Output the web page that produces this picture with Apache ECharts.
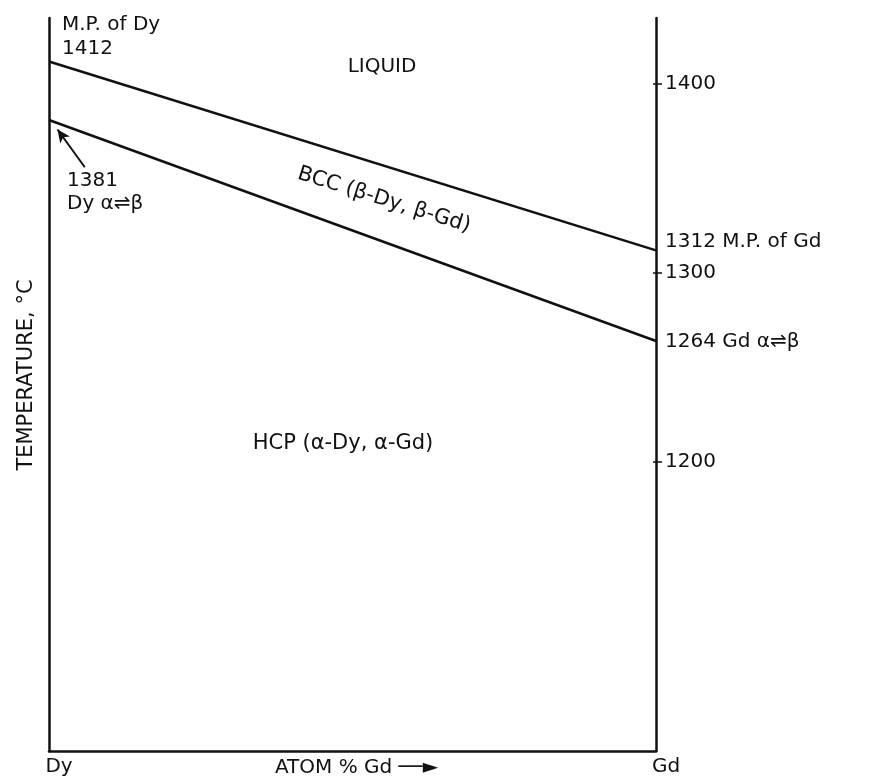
<!DOCTYPE html>
<html>
<head>
<meta charset="utf-8">
<script src="https://cdn.jsdelivr.net/npm/echarts@6/dist/echarts.min.js"></script>
<style>
  html, body { margin: 0; padding: 0; background: #fff; }
  #chart { width: 869px; height: 781px; }
</style>
</head>
<body>
<div id="chart"></div>
<script>
// ---- data ----
const composition = [0, 100];          // atom % Gd (Dy ... Gd)
const liquidus = [1412, 1312];         // melting line, °C
const betaTransus = [1381, 1264];      // alpha <-> beta transformation, °C
const tempTicks = [1200, 1300, 1400];  // right-axis tick labels
const endLabels = ['Dy', 'Gd'];        // x-axis end labels

const FONT = 'DejaVu Sans';
const INK = '#111';
const FS = 20;
const Y_MIN = 1047, Y_MAX = 1435;

const chart = echarts.init(document.getElementById('chart'), null, { renderer: 'canvas' });

const txt = (t, x, y, opts = {}) => Object.assign({
  type: 'text',
  x, y,
  style: Object.assign({
    text: t, fill: INK, font: (opts.size || FS) + 'px "' + FONT + '"',
    textAlign: 'left', textVerticalAlign: 'middle'
  }, opts.style || {})
}, opts.el || {});

const option = {
  backgroundColor: '#fff',
  animation: false,
  grid: { left: 49, right: 213, top: 18, bottom: 30, outerBoundsMode: 'none', containLabel: false },
  xAxis: {
    type: 'value', min: 0, max: 100,
    axisLine: { show: true, lineStyle: { color: INK, width: 2.5 } },
    axisTick: { show: false },
    splitLine: { show: false },
    axisLabel: {
      customValues: composition,
      formatter: v => endLabels[composition.indexOf(v)],
      color: INK, fontFamily: FONT, fontSize: FS, margin: 6,
      padding: [0, 0, 0, 20]
    },
    name: 'ATOM % Gd ──►',
    nameLocation: 'middle',
    nameGap: 7,
    nameMoveOverlap: false,
    nameTextStyle: { color: INK, fontFamily: FONT, fontSize: FS, verticalAlign: 'top', padding: [0, 0, 0, 8] }
  },
  yAxis: [
    {
      type: 'value', min: Y_MIN, max: Y_MAX, position: 'left',
      axisLine: { show: true, onZero: false, lineStyle: { color: INK, width: 2.5 } },
      axisTick: { show: false }, axisLabel: { show: false }, splitLine: { show: false }
    },
    {
      type: 'value', min: Y_MIN, max: Y_MAX, position: 'right', offset: 0,
      axisLine: { show: true, onZero: false, lineStyle: { color: INK, width: 2.5 } },
      axisTick: { show: true, customValues: tempTicks, length: 6, lineStyle: { color: INK, width: 1.5 } },
      axisLabel: { show: true, customValues: tempTicks, formatter: v => String(v), color: INK, fontFamily: FONT, fontSize: FS, margin: 9 },
      splitLine: { show: false }
    },
    {
      type: 'value', min: Y_MIN, max: Y_MAX, position: 'left', offset: -607,
      axisLine: { show: false },
      axisTick: { show: true, customValues: tempTicks, length: 3, lineStyle: { color: INK, width: 1.5 } },
      axisLabel: { show: false }, splitLine: { show: false }
    }
  ],
  series: [
    {
      name: 'liquidus', type: 'line', symbol: 'none', silent: true,
      lineStyle: { color: INK, width: 2.5 },
      data: composition.map((x, i) => [x, liquidus[i]])
    },
    {
      name: 'transus', type: 'line', symbol: 'none', silent: true,
      lineStyle: { color: INK, width: 2.5 },
      data: composition.map((x, i) => [x, betaTransus[i]]),
      markLine: {
        silent: true, symbol: ['none', 'arrow'], symbolSize: [9, 13],
        lineStyle: { color: INK, width: 2, type: 'solid' }, label: { show: false },
        data: [[{ coord: [5.9, 1356] }, { coord: [1.4, 1376] }]]
      }
    }
  ]
};
chart.setOption(option);

// Annotations anchored to the data through the chart's own coordinate system
const P = (x, t) => chart.convertToPixel({ gridIndex: 0 }, [x, t]);
const pL0 = P(composition[0], liquidus[0]);
const pL1 = P(composition[1], liquidus[1]);
const pT0 = P(composition[0], betaTransus[0]);
const pT1 = P(composition[1], betaTransus[1]);
const ang = Math.atan2(pL1[1] - pL0[1], pL1[0] - pL0[0]);

chart.setOption({
  graphic: [
    txt('M.P. of Dy', pL0[0] + 13, pL0[1] - 37),
    txt(String(liquidus[0]), pL0[0] + 13, pL0[1] - 13),
    txt('LIQUID', 382, 67, { style: { textAlign: 'center' } }),
    txt('BCC (β-Dy, β-Gd)', 384, 200, { size: 21, style: { textAlign: 'center' }, el: { rotation: -ang } }),
    txt(String(betaTransus[0]), pT0[0] + 18, pT0[1] + 61),
    txt('Dy α⇌β', pT0[0] + 18, pT0[1] + 84),
    txt(liquidus[1] + ' M.P. of Gd', pL1[0] + 9, pL1[1] - 9),
    txt(betaTransus[1] + ' Gd α⇌β', pL1[0] + 9, pT1[1] + 1),
    txt('HCP (α-Dy, α-Gd)', 343, 444, { size: 21, style: { textAlign: 'center' } }),
    txt('TEMPERATURE, °C', 27, 375, { size: 21, style: { textAlign: 'center' }, el: { rotation: Math.PI / 2 } })
  ]
});
</script>
</body>
</html>
